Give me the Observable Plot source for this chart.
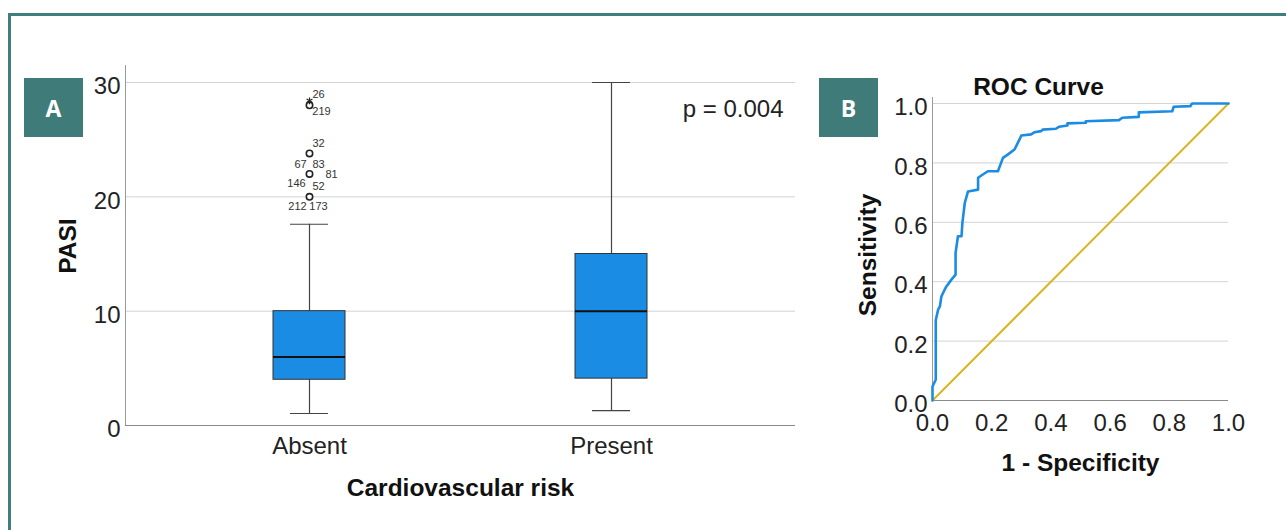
<!DOCTYPE html>
<html>
<head>
<meta charset="utf-8">
<script src="https://cdn.jsdelivr.net/npm/d3@7"></script>
<script src="https://cdn.jsdelivr.net/npm/@observablehq/plot@0.6"></script>
<style>
  html, body { margin: 0; padding: 0; background: #fff; overflow: hidden; }
  #page { position: relative; width: 1286px; height: 530px; overflow: hidden; background: #fff; font-family: "Liberation Sans", Arial, sans-serif; }
  #border { position: absolute; left: 8px; top: 13px; width: 1400px; height: 700px; border: 3px solid #3f7e7c; box-sizing: border-box; }
  .tag { position: absolute; width: 59px; height: 59px; background: #3e7b79; color: #fff; font-family: "Open Sans", "Liberation Sans", Arial, sans-serif; font-weight: 700; font-size: 23px; display: flex; align-items: center; justify-content: center; z-index: 5; }
  #plotA, #plotB { position: absolute; top: 0; }
  #plotA { left: 0; }
  #plotB { left: 840px; }
</style>
</head>
<body>
<div id="page">
  <div id="border"></div>
  <div id="plotA"></div>
  <div id="plotB"></div>
  <div class="tag" style="left:24px;top:78px;">A</div>
  <div class="tag" style="left:819px;top:78px;">B</div>
</div>
<script>
// ---------- Panel A data: PASI by cardiovascular risk ----------
const categories = ["Absent", "Present"];
const boxQ1 = [4.0, 4.1];
const boxMedian = [6.0, 10.0];
const boxQ3 = [10.0, 15.0];
const whiskerLow = [1.05, 1.3];
const whiskerHigh = [17.6, 30.0];
const pasiTicks = [0, 10, 20, 30];
const pValueText = "p = 0.004";

// outliers (Absent group)
const outlierValues = [20, 22, 23.8, 28];          // circles
const extremeValues = [28.4];                       // star
const outlierLabels = ["212", "173", "146", "52", "81", "67", "83", "32", "219", "26"];
const outlierLabelValues = [20, 20, 22, 22, 22, 22, 22, 23.8, 28, 28.4];

// ---------- Panel B data: ROC curve ----------
const rocFpr = [0,0,0.008,0.011,0.011,0.019,0.025,0.03,0.041,0.047,0.064,0.078,0.078,0.086,0.098,0.101,0.109,0.12,0.154,0.154,0.17,0.187,0.221,0.238,0.254,0.277,0.294,0.3,0.333,0.344,0.367,0.372,0.417,0.428,0.456,0.456,0.518,0.518,0.63,0.641,0.697,0.697,0.81,0.815,0.871,0.877,1];
const rocTpr = [0,0.047,0.064,0.07,0.27,0.306,0.317,0.35,0.373,0.384,0.407,0.424,0.497,0.553,0.553,0.598,0.665,0.704,0.71,0.75,0.761,0.772,0.772,0.817,0.828,0.845,0.879,0.892,0.896,0.903,0.907,0.912,0.915,0.922,0.926,0.933,0.935,0.94,0.944,0.952,0.955,0.97,0.974,0.989,0.991,1,1];
const refLine = [0, 1];
const rocTicks = [0, 0.2, 0.4, 0.6, 0.8, 1.0];

// ---------- build tables ----------
const boxes = categories.map((c, i) => ({cat: c, q1: boxQ1[i], med: boxMedian[i], q3: boxQ3[i], lo: whiskerLow[i], hi: whiskerHigh[i]}));
const outs = outlierValues.map(v => ({cat: categories[0], v}));
const extremes = extremeValues.map(v => ({cat: categories[0], v}));
const labelRows = outlierLabels.map((t, i) => ({cat: categories[0], v: outlierLabelValues[i], t}));
// label offsets (layout)
const labelOffsets = [[-12, 10], [9, 10], [-13, 10], [9, 13], [22, 1], [-9, -9], [9, -9], [9, -10], [12, 6], [9, -6]];
const roc = rocFpr.map((x, i) => ({x, y: rocTpr[i]}));
const diag = refLine.map(v => ({x: v, y: v}));

const FONT = "Liberation Sans, Arial, Helvetica, sans-serif";
const BLUE = "#1b8ce3";
const titleStyle = {fontWeight: "bold", fontSize: 24.5, fill: "#111", textAnchor: "middle", lineAnchor: "middle"};

const plotA = Plot.plot({
  width: 810, height: 510,
  marginLeft: 125, marginRight: 15, marginTop: 82, marginBottom: 85,
  style: {fontFamily: FONT, fontSize: "24px", color: "#222", background: "transparent", overflow: "visible"},
  x: {type: "band", domain: categories, paddingInner: 0.762, paddingOuter: 0.49, align: 0.5},
  y: {domain: [0, 30]},
  marks: [
    Plot.ruleY(pasiTicks.filter(d => d > 0), {stroke: "#d2d2d2", strokeWidth: 1}),
    Plot.frame({anchor: "left", insetTop: -17, stroke: "#9a9a9a"}),
    Plot.ruleY([0], {stroke: "#8a8a8a", strokeWidth: 1.2}),
    Plot.ruleX(boxes, {x: "cat", y1: "lo", y2: "hi", stroke: "#444", strokeWidth: 1.2}),
    Plot.tickY(boxes, {x: "cat", y: "lo", insetLeft: 17, insetRight: 17, stroke: "#444", strokeWidth: 1.2}),
    Plot.tickY(boxes, {x: "cat", y: "hi", insetLeft: 17, insetRight: 17, stroke: "#444", strokeWidth: 1.2}),
    Plot.barY(boxes, {x: "cat", y1: "q1", y2: "q3", fill: BLUE, stroke: "#333", strokeWidth: 1}),
    Plot.tickY(boxes, {x: "cat", y: "med", stroke: "#111", strokeWidth: 2}),
    Plot.dot(outs, {x: "cat", y: "v", r: 3.2, fill: "#fff", stroke: "#222", strokeWidth: 1.6}),
    Plot.dot(extremes, {x: "cat", y: "v", r: 3.2, symbol: "asterisk", stroke: "#222", strokeWidth: 1.2}),
    ...labelRows.map((d, i) => Plot.text([d], {x: "cat", y: "v", text: "t", dx: labelOffsets[i][0], dy: labelOffsets[i][1], fontSize: 11, fill: "#333"})),
    Plot.axisY({ticks: pasiTicks, tickSize: 0, tickPadding: 5, dy: 4, label: null, fill: "#222"}),
    Plot.axisX({tickSize: 0, tickPadding: 11, label: null, fill: "#222"}),
    Plot.text(["PASI"], {frameAnchor: "left", rotate: -90, dx: -57, dy: -8, ...titleStyle}),
    Plot.text(["Cardiovascular risk"], {frameAnchor: "bottom", dy: 63, ...titleStyle}),
    Plot.text([pValueText], {frameAnchor: "top-right", textAnchor: "end", lineAnchor: "middle", dx: -12, dy: 27, fontSize: 24, fill: "#222"})
  ]
});
document.getElementById("plotA").appendChild(plotA);

const plotB = Plot.plot({
  width: 420, height: 500,
  marginLeft: 92, marginRight: 32, marginTop: 103, marginBottom: 100,
  style: {fontFamily: FONT, fontSize: "24px", color: "#222", background: "transparent", overflow: "visible"},
  x: {domain: [0, 1]},
  y: {domain: [0, 1]},
  marks: [
    Plot.ruleY(rocTicks.filter(d => d > 0), {stroke: "#d2d2d2", strokeWidth: 1}),
    Plot.frame({anchor: "left", insetTop: -6, stroke: "#9a9a9a"}),
    Plot.ruleY([0], {stroke: "#8a8a8a", strokeWidth: 1.2}),
    Plot.line(diag, {x: "x", y: "y", stroke: "#d9b521", strokeWidth: 2}),
    Plot.line(roc, {x: "x", y: "y", stroke: BLUE, strokeWidth: 2.6, strokeLinejoin: "round"}),
    Plot.axisY({ticks: rocTicks, tickFormat: d3.format(".1f"), tickSize: 0, tickPadding: 5, dy: 4, label: null, fill: "#222"}),
    Plot.axisX({ticks: rocTicks, tickFormat: d3.format(".1f"), tickSize: 0, tickPadding: 13, label: null, fill: "#222"}),
    Plot.text(["ROC Curve"], {frameAnchor: "top", dx: -42, dy: -16, ...titleStyle}),
    Plot.text(["Sensitivity"], {frameAnchor: "left", rotate: -90, dx: -64, dy: 3, ...titleStyle}),
    Plot.text(["1 - Specificity"], {frameAnchor: "bottom", dy: 63, ...titleStyle})
  ]
});
document.getElementById("plotB").appendChild(plotB);
</script>
</body>
</html>
